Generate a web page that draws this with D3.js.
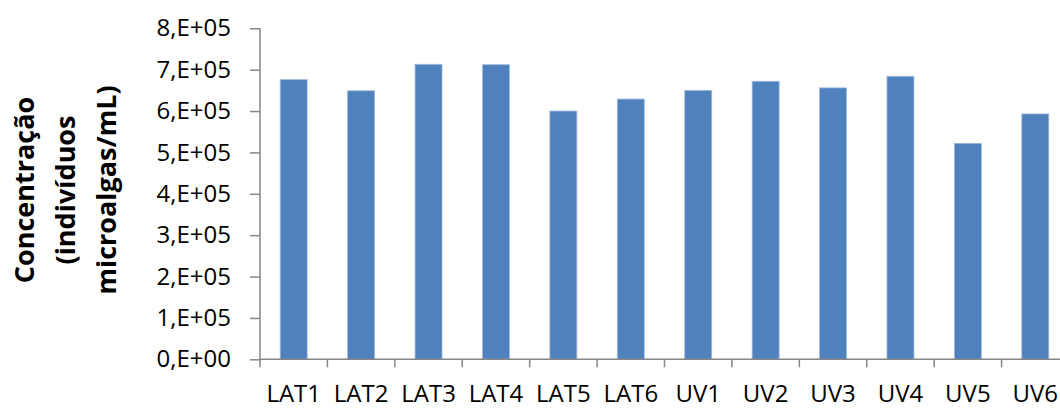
<!DOCTYPE html>
<html>
<head>
<meta charset="utf-8">
<script src="https://cdn.jsdelivr.net/npm/d3@7"></script>
<style>
  html, body { margin: 0; padding: 0; background: #fff; }
  svg { display: block; font-family: "Open Sans", sans-serif; }
</style>
</head>
<body>
<svg id="chart" width="1060" height="408"></svg>
<script>
// Microalgae concentration per sample
const categories = ["LAT1", "LAT2", "LAT3", "LAT4", "LAT5", "LAT6",
                    "UV1", "UV2", "UV3", "UV4", "UV5", "UV6"];
const concentration = [6.76e5, 6.49e5, 7.13e5, 7.12e5, 6.00e5, 6.29e5,
                       6.50e5, 6.72e5, 6.56e5, 6.84e5, 5.22e5, 5.93e5];
const yTicks = [0, 1e5, 2e5, 3e5, 4e5, 5e5, 6e5, 7e5, 8e5];
const yTitle = ["Concentração", "(indivíduos", "microalgas/mL)"];

const svg = d3.select("#chart");
const plot = { left: 260, right: 1069, top: 28.3, bottom: 359.3 };
const axisColor = "#868686";

const y = d3.scaleLinear().domain([0, 8e5]).range([plot.bottom, plot.top]);
const x = d3.scaleBand().domain(categories)
  .range([plot.left, plot.right])
  .paddingInner(0.6).paddingOuter(0.3);
const edge = d3.scaleLinear().domain([0, categories.length]).range([plot.left, plot.right]);

// Excel-style scientific labels, e.g. 8,E+05
const sci = d => {
  const e = d === 0 ? 0 : Math.floor(Math.log10(d));
  const m = Math.round(d / Math.pow(10, e));
  return `${m},E+${String(e).padStart(2, "0")}`;
};

// bars
svg.append("g").selectAll("rect").data(categories).join("rect")
  .attr("x", d => x(d))
  .attr("y", (d, i) => y(concentration[i]))
  .attr("width", x.bandwidth())
  .attr("height", (d, i) => y(0) - y(concentration[i]))
  .attr("fill", "#4F81BD")
  .attr("stroke", "#9fb9dc")
  .attr("stroke-width", 0.8);

// y axis
const yAxis = svg.append("g")
  .attr("transform", `translate(${plot.left},0)`)
  .call(d3.axisLeft(y).tickValues(yTicks).tickFormat(sci).tickSize(10).tickPadding(19));
yAxis.select(".domain").attr("stroke", axisColor).attr("stroke-width", 1.5)
  .attr("d", `M0,${plot.top}V${plot.bottom}`);
yAxis.selectAll(".tick line").attr("stroke", axisColor).attr("stroke-width", 1.5);
yAxis.selectAll(".tick text").attr("fill", "#000").attr("font-size", 24)
  .attr("font-family", "'Open Sans', sans-serif");

// x axis: baseline plus ticks between categories
const xAxis = svg.append("g");
xAxis.append("line")
  .attr("x1", plot.left).attr("x2", plot.right)
  .attr("y1", y(0)).attr("y2", y(0))
  .attr("stroke", axisColor).attr("stroke-width", 1.5);
xAxis.selectAll("line.tk").data(d3.range(categories.length + 1)).join("line")
  .attr("class", "tk")
  .attr("x1", i => edge(i)).attr("x2", i => edge(i))
  .attr("y1", y(0)).attr("y2", y(0) + 8)
  .attr("stroke", axisColor).attr("stroke-width", 1.5);
xAxis.selectAll("text").data(categories).join("text")
  .attr("x", d => x(d) + x.bandwidth() / 2)
  .attr("y", 402)
  .attr("text-anchor", "middle")
  .attr("font-size", 24)
  .attr("fill", "#000")
  .text(d => d);

// y axis title, three stacked lines
const title = svg.append("text")
  .attr("transform", "translate(0,190) rotate(-90)")
  .attr("text-anchor", "middle")
  .attr("font-weight", "bold")
  .attr("font-size", 27)
  .attr("fill", "#000");
title.selectAll("tspan").data(yTitle).join("tspan")
  .attr("x", 0)
  .attr("y", (d, i) => 34 + i * 41)
  .text(d => d);
</script>
</body>
</html>
